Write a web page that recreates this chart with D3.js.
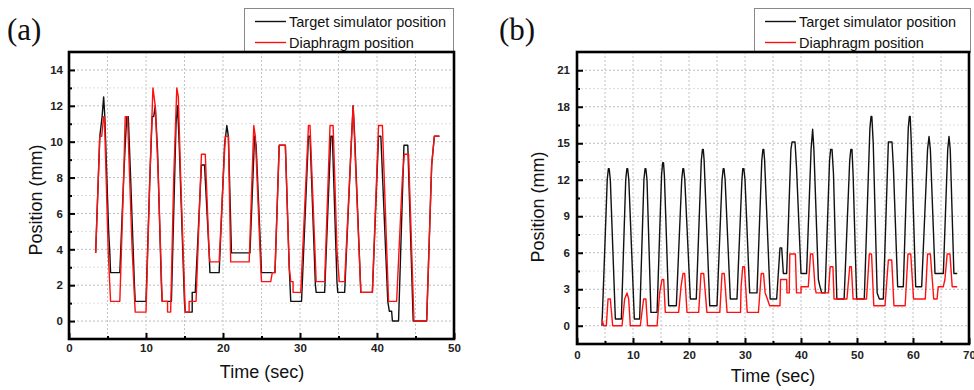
<!DOCTYPE html>
<html><head><meta charset="utf-8">
<script src="https://cdn.jsdelivr.net/npm/d3@7"></script>
<style>body{margin:0;background:#fff}svg{display:block}</style>
</head><body>
<svg id="c" width="974" height="390"></svg>
<script>
// ---------- DATA (time in sec, position in mm) ----------
const seriesNames = ["Target simulator position", "Diaphragm position"];
const panelLabels = ["(a)", "(b)"];
const xTitle = "Time (sec)";
const yTitle = "Position (mm)";

const aXTicks = [0, 10, 20, 30, 40, 50];
const aYTicks = [0, 2, 4, 6, 8, 10, 12, 14];
const bXTicks = [0, 10, 20, 30, 40, 50, 60, 70];
const bYTicks = [0, 3, 6, 9, 12, 15, 18, 21];

const aTarget = [
 [3.46,3.8],[4.0,10.3],[4.3,11.4],[4.5,12.5],[4.65,11.4],[5.15,5.0],[5.3,3.8],[5.4,2.7],[6.6,2.7],
 [7.1,8.0],[7.3,9.8],[7.5,11.4],[7.7,11.4],[8.0,8.0],[8.5,2.0],[8.6,1.1],[10.0,1.1],
 [10.5,8.0],[10.8,11.4],[11.0,11.4],[11.2,12.0],[11.5,9.5],[12.0,2.0],[12.1,1.1],[13.3,1.1],
 [13.9,11.0],[14.1,12.0],[14.3,10.0],[15.0,1.0],[15.1,0.5],[16.0,0.5],[16.0,1.6],[16.4,1.6],
 [17.2,8.7],[17.6,8.7],[18.2,3.8],[18.3,2.7],[19.5,2.7],
 [20.2,9.8],[20.5,10.9],[20.7,10.3],[21.1,3.8],[23.5,3.8],
 [24.1,10.3],[24.3,9.8],[24.9,3.8],[25.0,2.7],[26.75,2.7],
 [27.3,9.8],[28.1,9.8],[28.6,3.0],[28.8,1.1],[30.2,1.1],
 [31.1,10.3],[31.3,10.3],[32.0,2.0],[32.1,1.6],[33.2,1.6],
 [34.0,10.3],[34.2,10.3],[34.8,2.2],[34.9,1.6],[35.8,1.6],
 [36.7,10.3],[36.9,12.0],[37.1,10.3],[37.9,1.6],[39.4,1.6],
 [40.2,10.3],[40.5,10.3],[41.4,1.1],[41.6,0.55],[41.9,0.55],[42.0,0],[42.8,0],
 [43.5,9.8],[44.0,9.8],[44.7,0],[46.45,0],[47.1,8.7],[47.45,10.3],[48.1,10.3]
];
const aDiaphragm = [
 [3.46,3.8],[4.0,10.3],[4.25,10.3],[4.5,11.4],[4.6,11.4],[5.1,3.8],[5.4,1.1],[6.6,1.1],
 [7.1,8.0],[7.3,11.4],[7.6,11.4],[8.2,4.0],[8.6,0.5],[10.0,0.5],
 [10.5,8.0],[10.9,13.0],[11.05,12.5],[11.2,12.0],[11.6,8.0],[12.1,1.1],[12.8,1.1],[12.8,0.5],[13.2,0.5],
 [13.6,8.0],[14.0,13.0],[14.2,12.5],[14.5,8.0],[15.1,0.5],[15.6,0.5],[15.6,1.1],[16.5,1.1],
 [17.2,9.3],[17.7,9.3],[18.2,3.8],[18.3,3.3],[19.5,3.3],
 [20.3,10.3],[20.7,10.3],[21.0,3.3],[23.4,3.3],
 [24.0,10.9],[24.2,10.3],[24.9,3.0],[25.0,2.2],[26.2,2.2],[26.4,2.7],[26.75,2.7],
 [27.3,9.8],[28.1,9.8],[28.6,3.0],[28.8,2.2],[29.1,2.2],[29.1,1.6],[30.1,1.6],
 [31.1,10.9],[31.3,10.9],[32.1,2.2],[33.2,2.2],
 [33.9,10.9],[34.3,10.9],[34.8,4.0],[35.1,2.2],[35.8,2.2],
 [36.9,12.0],[37.9,1.6],[39.4,1.6],
 [40.2,10.9],[40.7,10.9],[41.5,1.1],[42.55,1.1],
 [43.3,8.0],[43.55,9.3],[44.1,9.3],[44.8,0],[46.45,0],[47.1,8.7],[47.45,10.3],[48.1,10.3]
];
const bTarget = [
 [4.46,0],[4.7,3],[5.4,12.0],[5.6,12.9],[5.75,12.9],[5.95,12.0],[6.85,0.55],[7.92,0.55],
 [8.7,12.0],[8.9,12.9],[9.05,12.9],[9.25,12.0],[10.24,0.55],[11.19,0.55],
 [11.95,12.0],[12.15,12.9],[12.3,12.9],[12.5,12.0],[13.2,1.1],[14.3,1.1],
 [15.1,12.4],[15.3,13.4],[15.45,13.4],[15.6,12.4],[16.37,1.65],[17.74,1.65],
 [18.7,12.0],[18.9,12.9],[19.05,12.9],[19.25,12.0],[20.24,2.2],[21.3,2.2],
 [22.2,13.6],[22.4,14.5],[22.55,14.5],[22.7,13.6],[23.7,1.65],[25.0,1.65],
 [25.9,12.0],[26.1,12.9],[26.25,12.9],[26.45,12.0],[27.38,2.2],[28.57,2.2],
 [29.45,12.0],[29.6,12.9],[29.8,12.9],[30.0,12.0],[30.83,2.7],[32.14,2.7],
 [33.0,13.6],[33.2,14.5],[33.35,14.5],[33.5,13.6],[34.5,2.2],[35.65,2.2],
 [36.25,6.4],[36.55,6.4],[36.85,4.3],[37.44,4.3],
 [38.2,14.5],[38.4,15.1],[38.93,15.1],[39.2,13.0],[40.0,4.3],[41.0,4.3],
 [41.8,14.5],[42.08,16.15],[42.3,14.5],[43.1,3.8],[43.4,3.2],[43.7,2.7],[44.3,2.7],
 [45.1,13.6],[45.3,14.5],[45.54,14.5],[45.8,12.5],[46.4,2.2],[47.7,2.2],
 [48.7,13.6],[48.9,14.5],[49.1,14.5],[49.3,12.5],[49.94,2.2],[51.3,2.2],
 [52.3,16.2],[52.5,17.2],[52.65,17.2],[52.9,15.0],[53.6,2.7],[53.99,2.2],[54.7,2.2],
 [55.6,15.1],[56.25,15.1],[56.5,13.0],[57.26,3.2],[58.27,3.2],
 [59.15,16.2],[59.35,17.2],[59.5,17.2],[59.7,15.0],[60.48,3.2],[61.55,3.2],
 [62.6,14.5],[62.86,15.55],[63.1,14.5],[63.93,4.3],[65.42,4.3],
 [66.2,14.5],[66.43,15.55],[66.65,14.5],[67.3,4.3],[67.9,4.3]
];
const bDiaphragm = [
 [4.46,0.55],[4.76,0],[5.24,0],[5.54,2.2],[5.95,2.2],[6.37,0],[8.04,0],
 [8.51,2.2],[8.93,2.7],[9.23,2.2],[9.52,0],[11.3,0],
 [11.9,2.2],[12.3,2.2],[12.6,0],[14.3,0],
 [14.76,2.7],[15.18,3.8],[15.48,3.8],[15.77,1.1],[18.15,1.1],
 [18.57,3.2],[18.93,4.3],[19.23,4.3],[19.64,1.1],[21.73,1.1],
 [22.14,4.3],[22.62,4.3],[23.2,1.1],[25.5,1.1],
 [25.9,4.3],[26.3,4.3],[26.8,1.1],[29.2,1.1],
 [29.3,3.2],[29.6,4.85],[29.9,4.85],[30.4,1.1],[32.4,1.1],
 [32.9,4.3],[33.3,4.3],[33.6,2.7],[34.0,2.2],[34.4,1.65],[36.25,1.65],
 [36.35,3.8],[37.44,3.8],[37.5,2.7],[37.9,2.7],[38.0,5.9],[39.0,5.9],[39.2,2.7],[40.0,2.7],
 [40.0,3.2],[41.3,3.2],[41.7,5.9],[42.1,5.9],[42.5,3.2],[42.7,2.7],[44.9,2.7],
 [45.2,4.85],[45.7,4.85],[45.9,2.2],[48.2,2.2],
 [48.7,4.85],[49.0,4.85],[49.3,2.2],[51.7,2.2],
 [52.2,5.9],[52.6,5.9],[53.0,1.65],[55.0,1.65],
 [55.6,5.4],[56.2,5.4],[56.6,1.65],[58.6,1.65],
 [59.1,5.9],[59.6,5.9],[60.1,2.2],[62.2,2.2],
 [62.6,5.9],[63.1,5.9],[63.7,2.2],[64.3,2.2],[64.5,3.2],[65.4,3.2],[65.7,3.8],
 [66.1,5.9],[66.6,5.9],[67.0,3.2],[67.9,3.2]
];
const seriesColors = ["#111111", "#ff1010"];

// ---------- LAYOUT ----------
const panels = [
 {label: panelLabels[0], lx: 7, ly: 40, box: [69, 454, 52, 339], xd: [0, 50], yd: [-1, 15],
  xt: aXTicks, yt: aYTicks, xMinor: 5, yMinor: 1, series: [aTarget, aDiaphragm],
  leg: [244, 453], xTitle: [262, 378], yTitle: [42, 200], xPad: 5, yPad: 6},
 {label: panelLabels[1], lx: 499, ly: 40, box: [577, 969, 52, 344], xd: [0, 70], yd: [-1.5, 22.5],
  xt: bXTicks, yt: bYTicks, xMinor: 5, yMinor: 1.5, series: [bTarget, bDiaphragm],
  leg: [754, 970], xTitle: [773, 382], yTitle: [544, 207], xPad: 7, yPad: 7}
];

const svg = d3.select("#c");
const SANS = "'Liberation Sans', Arial, sans-serif";

panels.forEach((p, pi) => {
  const [L, R, T, B] = p.box;
  const x = d3.scaleLinear().domain(p.xd).range([L, R]);
  const y = d3.scaleLinear().domain(p.yd).range([B, T]);
  const g = svg.append("g");

  // grid
  const xGrid = d3.range(p.xd[0], p.xd[1] + 1e-9, p.xMinor).filter(v => v > p.xd[0] && v < p.xd[1]);
  const yGrid = d3.range(Math.ceil(p.yd[0] / p.yMinor) * p.yMinor, p.yd[1] + 1e-9, p.yMinor)
                 .filter(v => v > p.yd[0] && v < p.yd[1]);
  g.append("g").selectAll("line").data(xGrid).join("line")
    .attr("x1", d => x(d)).attr("x2", d => x(d)).attr("y1", T).attr("y2", B)
    .attr("stroke", "#c4c4c4").attr("stroke-width", 1).attr("stroke-dasharray", "2,2");
  g.append("g").selectAll("line").data(yGrid).join("line")
    .attr("x1", L).attr("x2", R).attr("y1", d => y(d)).attr("y2", d => y(d))
    .attr("stroke", d => p.yt.some(t => Math.abs(t - d) < 1e-6) ? "#bdbdbd" : "#dedede")
    .attr("stroke-width", 1).attr("stroke-dasharray", "2,2");

  // series
  const clipId = "clip" + pi;
  g.append("clipPath").attr("id", clipId).append("rect")
    .attr("x", L).attr("y", T).attr("width", R - L).attr("height", B - T);
  const line = d3.line().x(d => x(d[0])).y(d => y(d[1]));
  p.series.forEach((s, si) => {
    g.append("path").datum(s).attr("d", line).attr("fill", "none")
      .attr("stroke", seriesColors[si]).attr("stroke-width", 1.4)
      .attr("stroke-linejoin", "round").attr("clip-path", `url(#${clipId})`);
  });

  // axes (inward ticks)
  const xMinorVals = d3.range(p.xd[0], p.xd[1] + 1e-9, p.xMinor).filter(v => !p.xt.includes(v));
  const yMinorVals = yGrid.filter(v => !p.yt.some(t => Math.abs(t - v) < 1e-6));
  const xa = g.append("g").attr("transform", `translate(0,${B})`)
    .call(d3.axisBottom(x).tickValues(p.xt).tickSizeInner(-6).tickSizeOuter(0).tickPadding(p.xPad));
  const xm = g.append("g").attr("transform", `translate(0,${B})`)
    .call(d3.axisBottom(x).tickValues(xMinorVals).tickFormat("").tickSizeInner(-3).tickSizeOuter(0));
  const ya = g.append("g").attr("transform", `translate(${L},0)`)
    .call(d3.axisLeft(y).tickValues(p.yt).tickSizeInner(-6).tickSizeOuter(0).tickPadding(p.yPad));
  const ym = g.append("g").attr("transform", `translate(${L},0)`)
    .call(d3.axisLeft(y).tickValues(yMinorVals).tickFormat("").tickSizeInner(-3).tickSizeOuter(0));
  [xa, xm, ya, ym].forEach(a => {
    a.select(".domain").remove();
    a.selectAll("line").attr("stroke", "#000").attr("stroke-width", 2);
    a.selectAll("text").attr("font-family", SANS).attr("font-size", 11.5)
      .attr("font-weight", "bold").attr("fill", "#222");
  });

  // legend
  const lg = g.append("g");
  lg.append("rect").attr("x", p.leg[0] + 0.5).attr("y", 8.5).attr("width", p.leg[1] - p.leg[0])
    .attr("height", T - 8).attr("fill", "#fff").attr("stroke", "#888").attr("stroke-width", 1);
  seriesNames.forEach((n, i) => {
    const yy = 21.5 + i * 21;
    lg.append("line").attr("x1", p.leg[0] + 11).attr("x2", p.leg[0] + 42)
      .attr("y1", yy).attr("y2", yy).attr("stroke", seriesColors[i]).attr("stroke-width", 1.4);
    lg.append("text").attr("x", p.leg[0] + 45).attr("y", yy + 5).text(n)
      .attr("font-family", SANS).attr("font-size", 14.5).attr("fill", "#111");
  });

  // frame
  g.append("rect").attr("x", L).attr("y", T).attr("width", R - L).attr("height", B - T)
    .attr("fill", "none").attr("stroke", "#000").attr("stroke-width", 2.6);

  // titles
  g.append("text").attr("x", p.xTitle[0]).attr("y", p.xTitle[1]).attr("text-anchor", "middle")
    .attr("font-family", SANS).attr("font-size", 18).attr("fill", "#111").text(xTitle);
  g.append("text").attr("transform", `translate(${p.yTitle[0]},${p.yTitle[1]}) rotate(-90)`)
    .attr("text-anchor", "middle").attr("font-family", SANS).attr("font-size", 18)
    .attr("fill", "#111").text(yTitle);
  g.append("text").attr("x", p.lx).attr("y", p.ly)
    .attr("font-family", "'Liberation Serif', 'Times New Roman', serif").attr("font-size", 31)
    .attr("fill", "#111").text(p.label);
});
</script>
</body></html>
